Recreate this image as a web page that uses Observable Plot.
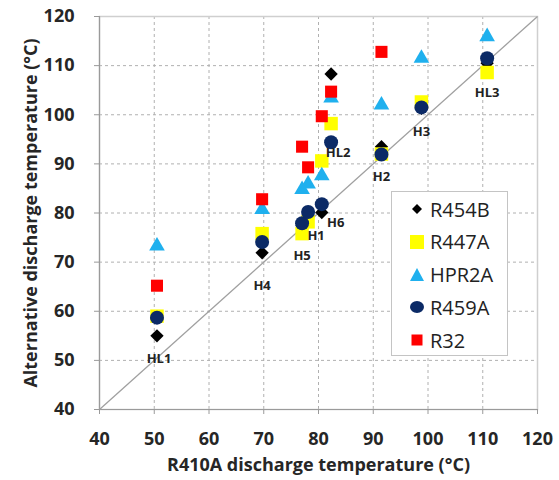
<!DOCTYPE html>
<html>
<head>
<meta charset="utf-8">
<script src="https://cdn.jsdelivr.net/npm/d3@7"></script>
<script src="https://cdn.jsdelivr.net/npm/@observablehq/plot@0.6"></script>
<style>
  body { margin: 0; background: #fff; }
  #chart { position: relative; width: 559px; height: 480px; font-family: "Open Sans", "Liberation Sans", sans-serif; }
  #legend {
    position: absolute; left: 391px; top: 191px; width: 117px; height: 165px;
    background: #fff; border: 1px solid #c4c4c4; box-sizing: border-box;
  }
  #legend .row { position: absolute; left: 0; height: 30px; display: flex; align-items: center; }
  #legend svg { width: 26px; height: 20px; margin-left: 12px; }
  #legend span { font-size: 20px; color: #222; margin-left: 0px; }
</style>
</head>
<body>
<div id="chart"></div>
<script>
// Test cases (operating conditions) and the R410A baseline discharge temperature, °C
const cases = ["HL1", "H4", "H5", "H1", "H6", "HL2", "H2", "H3", "HL3"];
const r410a = [50.5, 69.7, 77.0, 78.1, 80.6, 82.3, 91.5, 98.8, 110.8];

// Discharge temperature of each alternative refrigerant, °C (null = not tested)
const r454b = [55.0, 71.9, 77.4, 79.4, 80.1, 108.3, 93.5, 101.3, 110.5];
const r447a = [59.0, 75.8, 75.8, 78.2, 90.6, 98.2, 92.0, 102.6, 108.6];
const hpr2a = [73.3, 80.7, 84.8, 85.9, 87.6, 103.4, 102.0, 111.5, 115.9];
const r459a = [58.7, 74.1, 77.9, 80.2, 81.8, 94.4, 91.9, 101.5, 111.5];
const r32   = [65.2, 82.8, 93.5, 89.3, 99.7, 104.7, 112.8, null, null];

const axisTicks = [40, 50, 60, 70, 80, 90, 100, 110, 120];
const domain = [40, 120];

// Series drawing order and marker styling
const series = [
  {name: "R454B", values: r454b, symbol: "diamond2", fill: "#000000", r: 6.0},
  {name: "R447A", values: r447a, symbol: "square",   fill: "#ffff00", r: 7.6},
  {name: "HPR2A", values: hpr2a, symbol: "triangle", fill: "#1fb0ee", r: 5.8},
  {name: "R459A", values: r459a, symbol: "circle",   fill: "#0b2a66", r: 7.0},
  {name: "R32",   values: r32,   symbol: "square",   fill: "#ff0000", r: 6.8}
];

// Pixel nudges for the case labels, relative to the lowest marker of each case
const labelNudge = {
  HL1: [2, 23], H4: [0, 33], H5: [0, 22], H1: [8, 14], H6: [14, 10],
  HL2: [7, 11], H2: [0, 22], H3: [0, 23], HL3: [0, 20]
};

const rows = cases.map((c, i) => ({case: c, x: r410a[i]}));
const labelRows = rows.map((d, i) => ({
  ...d,
  y: d3.min(series, s => s.values[i])
}));

const marks = [
  Plot.gridX(axisTicks, {stroke: "#b0b0b0", strokeOpacity: 1, strokeDasharray: "3,3"}),
  Plot.gridY(axisTicks, {stroke: "#b0b0b0", strokeOpacity: 1, strokeDasharray: "3,3"}),
  Plot.frame({stroke: "#cfcfcf", strokeWidth: 1.5}),
  Plot.ruleX([domain[0]], {stroke: "#9a9a9a", strokeWidth: 1.2}),
  Plot.ruleY([domain[0]], {stroke: "#9a9a9a", strokeWidth: 1.2}),
  // 1:1 reference line
  Plot.link([domain], {x1: d => d[0], y1: d => d[0], x2: d => d[1], y2: d => d[1], stroke: "#a0a0a0", strokeWidth: 1.3}),
  Plot.axisX(axisTicks, {
    tickSize: 5, tickPadding: 18, stroke: "#9a9a9a",
    fontSize: 18, fontWeight: "bold", fill: "#262626",
    label: "R410A discharge temperature (°C)", labelAnchor: "center", labelArrow: "none", labelOffset: 61
  }),
  Plot.axisY(axisTicks, {
    tickSize: 5, tickPadding: 20, stroke: "#9a9a9a",
    fontSize: 18, fontWeight: "bold", fill: "#262626",
    label: "Alternative discharge temperature (°C)", labelAnchor: "center", labelArrow: "none", labelOffset: 75
  }),
  ...series.map(s => Plot.dot(
    rows.map((d, i) => ({...d, y: s.values[i]})).filter(d => d.y != null),
    {x: "x", y: "y", symbol: () => s.symbol, fill: s.fill, r: s.r, stroke: "none"}
  ))
];

// Case labels, each with its own offset
for (const d of labelRows) {
  const [dx, dy] = labelNudge[d.case];
  marks.push(Plot.text([d], {x: "x", y: "y", text: "case", dx, dy, fontSize: 13, fontWeight: "bold", fill: "#222"}));
}

const chart = Plot.plot({
  width: 559,
  height: 480,
  marginLeft: 99,
  marginRight: 22,
  marginTop: 16,
  marginBottom: 71,
  style: {fontFamily: "'Open Sans', 'Liberation Sans', sans-serif", background: "#fff", overflow: "visible"},
  x: {domain, ticks: axisTicks},
  y: {domain, ticks: axisTicks},
  symbol: {type: "identity"},
  marks
});

const root = document.getElementById("chart");
root.appendChild(chart);

// Legend box inside the plotting area
const legend = document.createElement("div");
legend.id = "legend";
const symbolSvg = {
  "R454B": '<polygon points="13,5 18,10 13,15 8,10" fill="#000"/>',
  "R447A": '<rect x="6" y="3" width="14" height="14" fill="#ffff00"/>',
  "HPR2A": '<polygon points="13,3 20,16 6,16" fill="#1fb0ee"/>',
  "R459A": '<ellipse cx="13" cy="10" rx="7" ry="6" fill="#0b2a66"/>',
  "R32":   '<rect x="7.5" y="4.5" width="11" height="11" fill="#ff0000"/>'
};
series.forEach((s, i) => {
  const row = document.createElement("div");
  row.className = "row";
  row.style.top = (2 + i * 32.8) + "px";
  row.innerHTML = `<svg viewBox="0 0 26 20">${symbolSvg[s.name]}</svg><span>${s.name}</span>`;
  legend.appendChild(row);
});
root.appendChild(legend);
</script>
</body>
</html>
